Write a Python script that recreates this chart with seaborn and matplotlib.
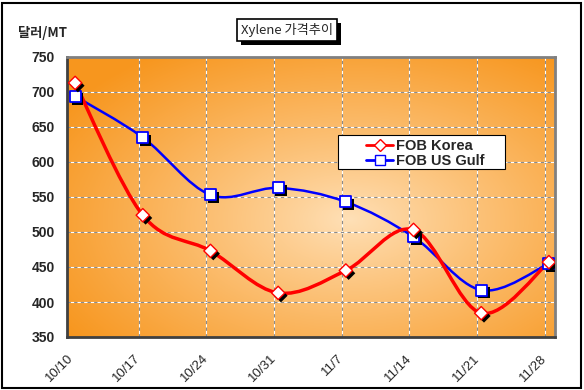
import numpy as np
import matplotlib
matplotlib.use("Agg")
import matplotlib.pyplot as plt
import matplotlib.patheffects as pe
from matplotlib.path import Path
from matplotlib.patches import PathPatch, Rectangle
from matplotlib.lines import Line2D
import seaborn as sns
import pandas as pd

dates = ["10/10", "10/17", "10/24", "10/31", "11/7", "11/14", "11/21", "11/28"]
fob_korea = [713, 524, 473, 413, 445, 503, 384, 457]
fob_usgulf = [694, 635, 553, 563, 543, 493, 417, 455]
y_ticks = [350, 400, 450, 500, 550, 600, 650, 700, 750]

sns.set_style("white")
plt.rcParams["font.family"] = ["Liberation Sans", "Noto Sans CJK KR", "DejaVu Sans"]

df = pd.DataFrame({"x": range(len(dates)), "korea": fob_korea, "gulf": fob_usgulf})

W, H = 584, 390
fig = plt.figure(figsize=(W / 100, H / 100), dpi=100)
ax = fig.add_axes([67 / W, 1 - 337 / H, 488 / W, 280 / H])

# orange radial gradient background
gx, gy = np.meshgrid(np.linspace(0, 1, 300), np.linspace(0, 1, 200))
r = np.sqrt(((gx - 0.58) / 0.7) ** 2 + ((gy - 0.42) / 0.72) ** 2)
t = np.clip(r, 0, 1)[..., None] ** 0.9
c_in = np.array([1.0, 0.88, 0.72])
c_out = np.array([0.97, 0.59, 0.12])
img = c_in * (1 - t) + c_out * t
ax.imshow(img, extent=[0, 1, 0, 1], transform=ax.transAxes, aspect="auto", zorder=0, origin="lower")

ax.set_xlim(-0.075, 7.09)
ax.set_ylim(350, 750)

# dashed grid (white + gray)
gxs = [i - 0.06 for i in range(1, len(dates))]
for xv in gxs:
    ax.axvline(xv, color="white", lw=0.8, zorder=1)
    ax.axvline(xv, color="#8a8a8a", lw=0.8, ls=(0, (3, 3)), zorder=1)
for yv in y_ticks[1:-1]:
    ax.axhline(yv, color="white", lw=0.8, zorder=1)
    ax.axhline(yv, color="#8a8a8a", lw=0.8, ls=(0, (3, 3)), zorder=1)


def smooth_path(xs, ys):
    pts = np.column_stack([xs, ys]).astype(float)
    n = len(pts)
    verts = [pts[0]]
    codes = [Path.MOVETO]
    for i in range(n - 1):
        p0 = pts[max(i - 1, 0)]
        p1 = pts[i]
        p2 = pts[i + 1]
        p3 = pts[min(i + 2, n - 1)]
        c1 = p1 + (p2 - p0) / 6
        c2 = p2 - (p3 - p1) / 6
        verts += [c1, c2, p2]
        codes += [Path.CURVE4] * 3
    return Path(verts, codes)


ax.add_patch(PathPatch(smooth_path(df["x"], df["gulf"]), fc="none", ec="#0000FF", lw=1.8, zorder=3))
ax.add_patch(PathPatch(smooth_path(df["x"], df["korea"]), fc="none", ec="#FF0000", lw=2.5, zorder=3))

shadow = [pe.SimplePatchShadow(offset=(2, -2), shadow_rgbFace="black", alpha=1), pe.Normal()]
sns.scatterplot(data=df, x="x", y="gulf", marker="s", s=64, color="white",
                edgecolor="#0000FF", linewidth=1.3, ax=ax, zorder=4)
ax.collections[-1].set_path_effects(shadow)
sns.scatterplot(data=df, x="x", y="korea", marker="D", s=46, color="white",
                edgecolor="#FF0000", linewidth=1.0, ax=ax, zorder=5)
ax.collections[-1].set_path_effects(shadow)

ax.set_xlabel("")
ax.set_ylabel("")
ax.set_yticks(y_ticks)
ax.set_yticklabels([str(v) for v in y_ticks], fontsize=10, fontweight="bold")
ax.set_xticks([i - 0.12 for i in range(len(dates))])
ax.set_xticklabels(dates, rotation=45, ha="right", rotation_mode="anchor", fontsize=9.5)
ax.tick_params(axis="y", length=0, pad=9)
ax.tick_params(axis="x", length=0, pad=11)

for side in ["top", "right", "bottom", "left"]:
    ax.spines[side].set_visible(True)
    ax.spines[side].set_color("#808080")
    ax.spines[side].set_linewidth(2)
ax.spines["left"].set_color("#404040")
ax.spines["bottom"].set_color("#404040")

# legend frame drawn by hand, legend itself frameless
to_ax = lambda px, py: ((px - 67) / 488, (337 - py) / 280)
lx0, ly0 = to_ax(338, 169)
lx1, ly1 = to_ax(505, 135)
ax.add_patch(Rectangle((lx0, ly0), lx1 - lx0, ly1 - ly0, transform=ax.transAxes,
                       fc="white", ec="black", lw=0.8, zorder=9))
handles = [
    Line2D([], [], color="#FF0000", lw=2, marker="D", markersize=6, mfc="white", mec="#FF0000"),
    Line2D([], [], color="#0000FF", lw=2, marker="s", markersize=7, mfc="white", mec="#0000FF"),
]
leg = ax.legend(handles, ["FOB Korea", "FOB US Gulf"], loc="upper left",
                bbox_to_anchor=to_ax(365, 138), frameon=False, handlelength=1.85,
                borderpad=0.1, borderaxespad=0, labelspacing=0.05, handletextpad=0.2,
                prop={"weight": "bold", "size": 10.5})
leg.set_zorder(10)

# title box with shadow
t = fig.text(287 / W, 1 - 30 / H, "Xylene 가격추이", ha="center", va="center", fontsize=9.5,
             family=["Noto Sans CJK KR", "DejaVu Sans"],
             bbox=dict(boxstyle="square,pad=0.3", fc="white", ec="black", lw=1.2))
t.get_bbox_patch().set_path_effects(
    [pe.SimplePatchShadow(offset=(3, -3), shadow_rgbFace="black", alpha=1), pe.Normal()])

fig.text(18 / W, 1 - 33 / H, "달러/MT", ha="left", va="center", fontsize=9.5, fontweight="bold",
         family=["Noto Sans CJK KR", "DejaVu Sans"])

fig.patches.append(Rectangle((2 / W, 2 / H), 579 / W, 385 / H, transform=fig.transFigure,
                             fc="none", ec="black", lw=1.5))

fig.savefig("out.png", dpi=100, facecolor="white")
